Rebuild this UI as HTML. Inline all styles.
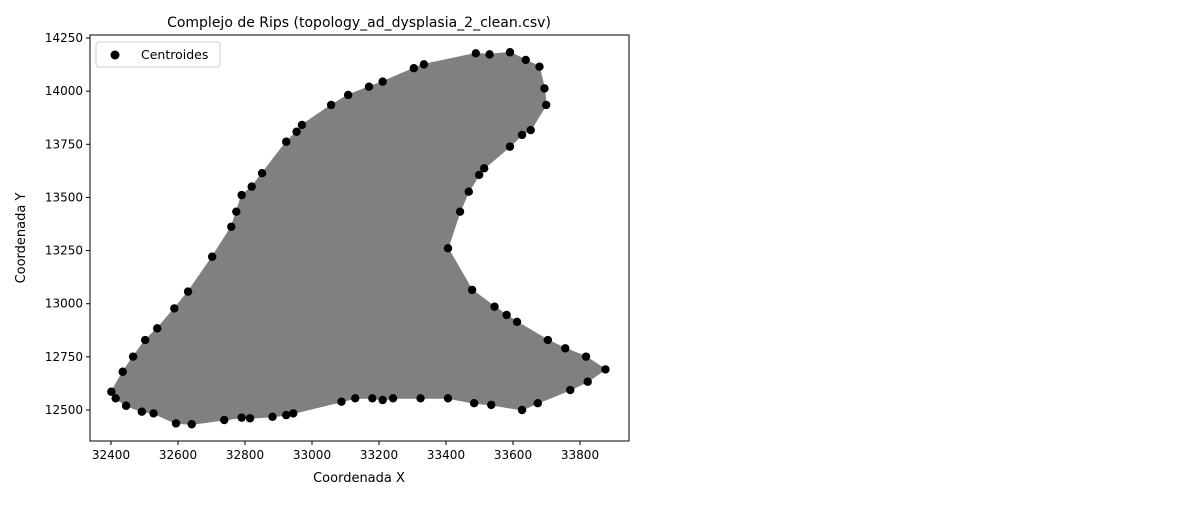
<!DOCTYPE html>
<html><head><meta charset="utf-8"><style>
body{margin:0;background:#fff;}
svg text{font-family:"DejaVu Sans","Liberation Sans",sans-serif;fill:#000;}
</style></head><body>
<svg id="chart" width="1200" height="500" xmlns="http://www.w3.org/2000/svg">
<text x="359" y="27" font-size="14" text-anchor="middle">Complejo de Rips (topology_ad_dysplasia_2_clean.csv)</text>
<g id="plot"></g>
<rect x="90" y="35" width="539" height="406" fill="none" stroke="#000" stroke-width="1"/>
<g id="xt"></g><g id="yt"></g>
<text x="359" y="482" font-size="13" text-anchor="middle">Coordenada X</text>
<text transform="translate(25,238) rotate(-90)" font-size="13" text-anchor="middle">Coordenada Y</text>
<g>
<rect x="96" y="42" width="124" height="25" rx="3" fill="#fff" stroke="#ccc"/>
<circle cx="115" cy="55" r="4.5" fill="#000"/>
<text x="141" y="59" font-size="12.5">Centroides</text>
</g>
</svg>
<script>
const xs=[32401,32435,32466,32502,32538,32589,32630,32702,32759,32774,32790,32820,32851,32923,32954,32970,33057,33108,33170,33211,33304,33334,33489,33530,33591,33638,33679,33694,33699,33653,33627,33591,33514,33499,33468,33442,33406,33478,33545,33581,33612,33704,33756,33818,33876,33823,33771,33674,33627,33535,33484,33406,33324,33242,33211,33180,33129,33088,32944,32923,32882,32815,32790,32738,32641,32594,32527,32492,32445,32414];
const ys=[12586,12680,12751,12829,12884,12978,13057,13221,13362,13433,13511,13551,13614,13762,13809,13841,13935,13982,14021,14045,14108,14126,14178,14173,14183,14147,14115,14013,13935,13817,13794,13739,13637,13606,13527,13433,13261,13065,12986,12947,12915,12829,12790,12751,12691,12633,12594,12532,12500,12524,12532,12555,12555,12555,12547,12555,12555,12539,12484,12476,12468,12461,12464,12453,12433,12437,12484,12492,12520,12555];
const xTicks=[32400,32600,32800,33000,33200,33400,33600,33800];
const yTicks=[12500,12750,13000,13250,13500,13750,14000,14250];
const X=v=>111+(v-32400)*67/200;
const Y=v=>410-(v-12500)*53.14/250;
const NS="http://www.w3.org/2000/svg";
const plot=document.getElementById('plot');
const poly=document.createElementNS(NS,'polygon');


poly.setAttribute('points',xs.map((x,i)=>X(x)+','+Y(ys[i])).join(' '));
poly.setAttribute('fill','#808080');poly.setAttribute('stroke','#808080');poly.setAttribute('stroke-linejoin','round');
plot.appendChild(poly);
xs.forEach((x,i)=>{const c=document.createElementNS(NS,'circle');


c.setAttribute('cx',X(x));c.setAttribute('cy',Y(ys[i]));c.setAttribute('r',4.2);c.setAttribute('fill','#000');plot.appendChild(c);});
const xt=document.getElementById('xt');
xTicks.forEach(t=>{const g=document.createElementNS(NS,'g');


g.innerHTML=`<line x1="${X(t)}" x2="${X(t)}" y1="441" y2="445" stroke="#000"/><text x="${X(t)}" y="459" font-size="12" text-anchor="middle">${t}</text>`;xt.appendChild(g);});
const yt=document.getElementById('yt');
yTicks.forEach(t=>{const g=document.createElementNS(NS,'g');


g.innerHTML=`<line x1="86" x2="90" y1="${Y(t)}" y2="${Y(t)}" stroke="#000"/><text x="83" y="${Y(t)+4}" font-size="12" text-anchor="end">${t}</text>`;yt.appendChild(g);});
</script>
</body></html>
